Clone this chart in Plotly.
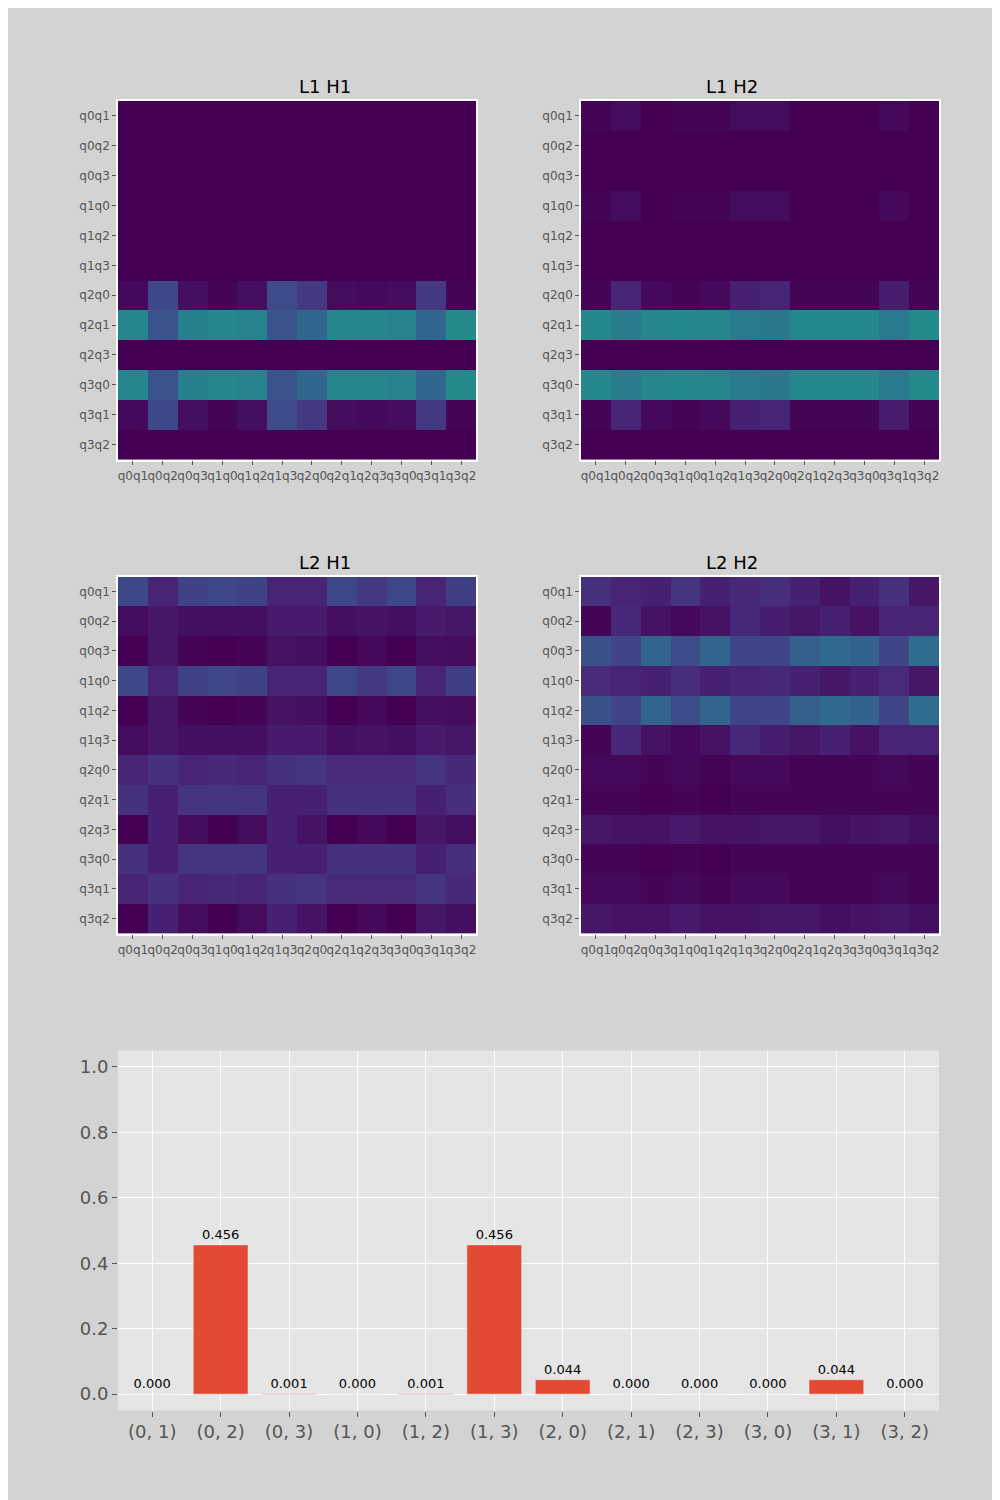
import plotly.graph_objects as go

PAIRS = ["q0q1", "q0q2", "q0q3", "q1q0", "q1q2", "q1q3",
         "q2q0", "q2q1", "q2q3", "q3q0", "q3q1", "q3q2"]
BAR_LABELS = ["(0, 1)", "(0, 2)", "(0, 3)", "(1, 0)", "(1, 2)", "(1, 3)",
              "(2, 0)", "(2, 1)", "(2, 3)", "(3, 0)", "(3, 1)", "(3, 2)"]
BAR_VALUES = [0.0, 0.456, 0.001, 0.0, 0.001, 0.456, 0.044, 0.0, 0.0, 0.0, 0.044, 0.0]

Z0 = [0.0] * 12

# layer 1 head 1
l1h1_q2q0 = [0.02, 0.22, 0.04, 0.01, 0.04, 0.23, 0.17, 0.03, 0.02, 0.03, 0.17, 0.01]
l1h1_q2q1 = [0.46, 0.26, 0.44, 0.46, 0.45, 0.26, 0.33, 0.46, 0.46, 0.45, 0.33, 0.48]
L1H1 = [Z0, Z0, Z0, Z0, Z0, Z0, l1h1_q2q0, l1h1_q2q1, Z0, l1h1_q2q1, l1h1_q2q0, Z0]

# layer 1 head 2
l1h2_q0q1 = [0.01, 0.03, 0.0, 0.01, 0.01, 0.03, 0.03, 0.0, 0.0, 0.0, 0.02, 0.0]
l1h2_q2q0 = [0.01, 0.1, 0.02, 0.01, 0.02, 0.09, 0.1, 0.01, 0.01, 0.01, 0.08, 0.01]
l1h2_q2q1 = [0.47, 0.42, 0.46, 0.47, 0.46, 0.41, 0.40, 0.47, 0.47, 0.47, 0.41, 0.48]
L1H2 = [l1h2_q0q1, Z0, Z0, l1h2_q0q1, Z0, Z0, l1h2_q2q0, l1h2_q2q1, Z0, l1h2_q2q1, l1h2_q2q0, Z0]

# layer 2 head 1
l2h1_a = [0.22, 0.1, 0.2, 0.22, 0.2, 0.1, 0.1, 0.22, 0.17, 0.22, 0.1, 0.19]
l2h1_b = [0.03, 0.06, 0.04, 0.04, 0.04, 0.07, 0.07, 0.04, 0.05, 0.04, 0.07, 0.06]
l2h1_c = [0.0, 0.06, 0.01, 0.0, 0.01, 0.05, 0.04, 0.0, 0.02, 0.0, 0.04, 0.03]
l2h1_d = [0.1, 0.14, 0.1, 0.11, 0.1, 0.14, 0.15, 0.12, 0.12, 0.12, 0.15, 0.11]
l2h1_e = [0.14, 0.09, 0.15, 0.15, 0.15, 0.09, 0.09, 0.14, 0.14, 0.14, 0.09, 0.13]
l2h1_f = [0.0, 0.09, 0.03, 0.0, 0.03, 0.09, 0.05, 0.0, 0.02, 0.0, 0.06, 0.04]
L2H1 = [l2h1_a, l2h1_b, l2h1_c, l2h1_a, l2h1_c, l2h1_b,
        l2h1_d, l2h1_e, l2h1_f, l2h1_e, l2h1_d, l2h1_f]

# layer 2 head 2
l2h2_a = [0.14, 0.1, 0.09, 0.15, 0.09, 0.11, 0.13, 0.09, 0.05, 0.09, 0.14, 0.06]
l2h2_b = [0.01, 0.11, 0.05, 0.02, 0.05, 0.11, 0.08, 0.06, 0.09, 0.05, 0.1, 0.1]
l2h2_c = [0.25, 0.21, 0.32, 0.23, 0.32, 0.21, 0.21, 0.3, 0.34, 0.31, 0.21, 0.35]
l2h2_d = [0.12, 0.1, 0.09, 0.13, 0.09, 0.1, 0.11, 0.09, 0.06, 0.09, 0.12, 0.06]
l2h2_e = [0.02, 0.02, 0.01, 0.02, 0.01, 0.02, 0.02, 0.01, 0.01, 0.01, 0.02, 0.01]
l2h2_f = [0.01, 0.01, 0.0, 0.01, 0.0, 0.01, 0.01, 0.01, 0.01, 0.01, 0.01, 0.01]
l2h2_g = [0.06, 0.05, 0.05, 0.07, 0.05, 0.05, 0.06, 0.06, 0.04, 0.05, 0.06, 0.04]
L2H2 = [l2h2_a, l2h2_b, l2h2_c, l2h2_d, l2h2_c, l2h2_b,
        l2h2_e, l2h2_f, l2h2_g, l2h2_f, l2h2_e, l2h2_g]

TITLES = ["L1 H1", "L1 H2", "L2 H1", "L2 H2"]
MATS = [L1H1, L1H2, L2H1, L2H2]

fig = go.Figure()
xdoms = [[0.11, 0.468], [0.573, 0.931]]
ydoms = [[0.699, 0.938], [0.383, 0.621]]

for i, (title, mat) in enumerate(zip(TITLES, MATS)):
    n = i + 1
    xa, ya = f"x{n}", f"y{n}"
    fig.add_trace(go.Heatmap(z=mat, x=PAIRS, y=PAIRS, colorscale="Viridis",
                             zmin=0, zmax=1, showscale=False, xaxis=xa, yaxis=ya))
    ax = dict(domain=xdoms[i % 2], anchor=ya, tickfont=dict(size=12, color="#555"),
              ticks="outside", ticklen=4, tickcolor="#555", showgrid=False,
              showline=True, linecolor="white", linewidth=1.5, mirror=True, tickangle=0)
    ay = dict(domain=ydoms[i // 2], anchor=xa, autorange="reversed",
              tickfont=dict(size=12, color="#555"), ticks="outside", ticklen=4,
              tickcolor="#555", showgrid=False, showline=True, linecolor="white",
              linewidth=1.5, mirror=True)
    fig.layout[f"xaxis{n}"] = ax
    fig.layout[f"yaxis{n}"] = ay
    fig.add_annotation(text=title, x=sum(xdoms[i % 2]) / 2, y=ydoms[i // 2][1],
                       xref="paper", yref="paper", yanchor="bottom", yshift=2,
                       showarrow=False, font=dict(size=18, color="black"))

fig.add_trace(go.Bar(x=BAR_LABELS, y=BAR_VALUES, marker_color="#E24A33", width=0.8,
                     text=[f"{v:.3f}" for v in BAR_VALUES], textposition="outside",
                     textfont=dict(size=13, color="black"), cliponaxis=False,
                     xaxis="x5", yaxis="y5"))
fig.layout["xaxis5"] = dict(domain=[0.11, 0.931], anchor="y5", showgrid=True,
                            gridcolor="white", tickfont=dict(size=18, color="#555"),
                            ticks="outside", tickcolor="#555", tickangle=0)
fig.layout["yaxis5"] = dict(domain=[0.065, 0.305], anchor="x5", range=[-0.05, 1.05],
                            dtick=0.2, tickformat=".1f", gridcolor="white", zeroline=False,
                            tickfont=dict(size=18, color="#555"), ticks="outside",
                            tickcolor="#555")

fig.update_layout(width=1000, height=1500, margin=dict(l=0, r=0, t=0, b=0),
                  paper_bgcolor="#D3D3D3", plot_bgcolor="#E5E5E5",
                  font=dict(family="DejaVu Sans"), showlegend=False)
fig.write_html("out.html")
